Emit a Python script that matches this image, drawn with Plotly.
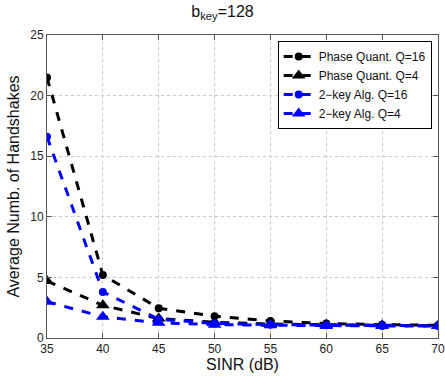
import plotly.graph_objects as go

sinr = [35, 40, 45, 50, 55, 60, 65, 70]
phase_q16 = [21.5, 5.2, 2.45, 1.8, 1.4, 1.2, 1.1, 1.05]
phase_q4 = [4.7, 2.7, 1.6, 1.3, 1.15, 1.1, 1.05, 1.0]
twokey_q16 = [16.6, 3.8, 1.55, 1.2, 1.1, 1.05, 1.0, 1.0]
twokey_q4 = [3.0, 1.75, 1.25, 1.1, 1.05, 1.0, 1.0, 1.0]

x_ticks = [35, 40, 45, 50, 55, 60, 65, 70]
y_ticks = [0, 5, 10, 15, 20, 25]

series = [
    ("Phase Quant. Q=16", phase_q16, "black", "circle", 8),
    ("Phase Quant. Q=4", phase_q4, "black", "triangle-up", 12),
    ("2\u2212key Alg. Q=16", twokey_q16, "blue", "circle", 8),
    ("2\u2212key Alg. Q=4", twokey_q4, "blue", "triangle-up", 12),
]

fig = go.Figure()
for name, vals, color, sym, size in series:
    fig.add_trace(go.Scatter(
        x=sinr, y=vals, name=name, mode="lines+markers",
        line=dict(color=color, width=3, dash="dash"),
        marker=dict(symbol=sym, size=size, color=color),
    ))

axis_common = dict(
    showline=True, linecolor="#555", linewidth=1, mirror="ticks",
    ticks="inside", ticklen=5, tickcolor="#555",
    showgrid=True, gridcolor="#c8c8c8", griddash="dot", gridwidth=1,
    zeroline=False, tickfont=dict(size=12, color="#222"),
    automargin=False,
)

fig.update_layout(
    width=445, height=378,
    margin=dict(l=47, r=7, t=35, b=40),
    paper_bgcolor="white", plot_bgcolor="white",
    font=dict(family="Liberation Sans, Arial, sans-serif", color="#111"),
    title=dict(text="b<sub>key</sub>=128", x=0.5, xanchor="center",
               y=0.985, yanchor="top", font=dict(size=16, color="#111")),
    xaxis=dict(range=[35, 70], tickvals=x_ticks,
               title=dict(text="SINR (dB)", font=dict(size=16), standoff=2),
               **axis_common),
    yaxis=dict(range=[0, 25], tickvals=y_ticks,
               title=dict(text="Average Numb. of Handshakes", font=dict(size=16), standoff=6),
               **axis_common),
    legend=dict(x=0.59, y=0.98, xanchor="left", yanchor="top",
                bgcolor="white", bordercolor="black", borderwidth=1,
                font=dict(size=12, color="#111"), tracegroupgap=0),
    showlegend=True,
)

fig.write_html("out.html", config={"displayModeBar": False},
               post_script="document.body.style.margin='0';document.body.style.padding='0';")
